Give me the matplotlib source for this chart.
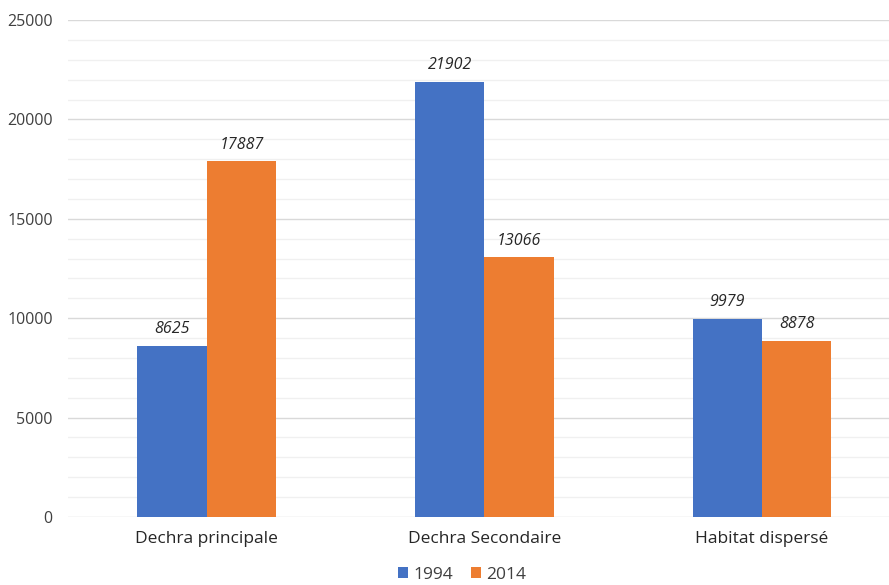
import matplotlib
matplotlib.use("Agg")
import matplotlib.pyplot as plt
import numpy as np
from matplotlib.ticker import MultipleLocator

categories = ["Dechra principale", "Dechra Secondaire", "Habitat dispersé"]
series_names = ["1994", "2014"]
values_1994 = [8625, 21902, 9979]
values_2014 = [17887, 13066, 8878]
colors = ["#4472C4", "#ED7D31"]

plt.rcParams['font.family'] = ['Open Sans', 'DejaVu Sans']

fig = plt.figure(figsize=(8.89, 5.85), dpi=100)
ax = fig.add_axes([68/889, 68/585, (889-68)/889, 497/585])

x = np.arange(len(categories))
w = 0.25
b1 = ax.bar(x - w/2, values_1994, w, color=colors[0], label=series_names[0], zorder=3)
b2 = ax.bar(x + w/2, values_2014, w, color=colors[1], label=series_names[1], zorder=3)

for bars, vals in ((b1, values_1994), (b2, values_2014)):
    for r, v in zip(bars, vals):
        ax.annotate(f"{v}", (r.get_x() + r.get_width()/2, v), xytext=(0, 6),
                    textcoords="offset points", ha="center", va="bottom",
                    fontsize=11.5, style="italic", color="#262626", zorder=4)

ax.set_ylim(0, 25000)
ax.set_xlim(-0.5, 2.5 - 11.75/277.5)
ax.yaxis.set_major_locator(MultipleLocator(5000))
ax.yaxis.set_minor_locator(MultipleLocator(1000))
ax.grid(axis="y", which="major", color="#D9D9D9", linewidth=1.0, zorder=0)
ax.grid(axis="y", which="minor", color="#F0F0F0", linewidth=1.0, zorder=0)
for s in ax.spines.values():
    s.set_visible(False)
ax.tick_params(axis="both", which="both", length=0)
ax.tick_params(axis="y", pad=11, labelsize=11.5, labelcolor="#404040")
ax.tick_params(axis="x", pad=10, labelsize=12.5, labelcolor="#262626")
ax.set_xticks(x)
ax.set_xticklabels(categories)

leg = fig.legend(handles=[b1, b2], labels=series_names, loc="center",
                 bbox_to_anchor=(462/889, 1 - 575/585), ncol=2, frameon=False,
                 fontsize=12.5, handlelength=0.6, handleheight=0.6,
                 handletextpad=0.3, columnspacing=1.0, borderaxespad=0)
for t in leg.get_texts():
    t.set_color("#404040")

fig.savefig("out.png", dpi=100)
